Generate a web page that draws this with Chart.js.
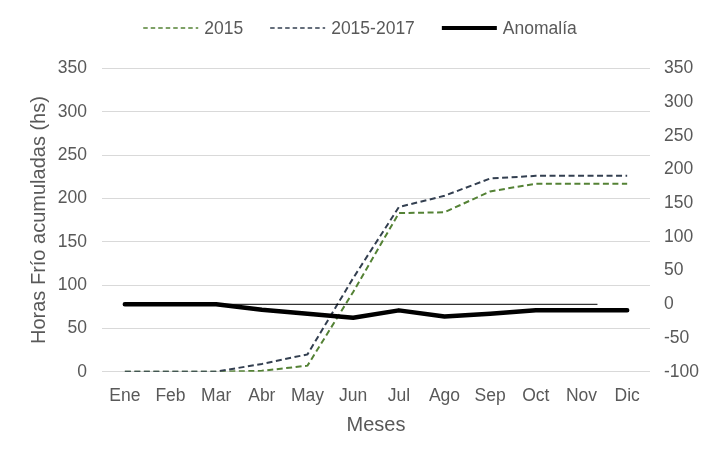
<!DOCTYPE html>
<html>
<head>
<meta charset="utf-8">
<script src="https://cdn.jsdelivr.net/npm/chart.js@4.4.1/dist/chart.umd.min.js"></script>
<style>
  html, body { margin: 0; padding: 0; background: #ffffff; }
  #wrap { width: 718px; height: 461px; }
</style>
</head>
<body>
<div id="wrap"><canvas id="c" width="718" height="461"></canvas></div>
<script>
const categories = ['Ene','Feb','Mar','Abr','May','Jun','Jul','Ago','Sep','Oct','Nov','Dic'];
const serie2015 = [0, 0, 0, 1, 7, 92, 183, 184, 208, 217, 217, 217];
const serie2015_2017 = [0, 0, 0, 9, 20, 108, 190, 203, 223, 226, 226, 226];
const anomalia = [0, 0, 0, -8, -14, -20, -9, -18, -14, -9, -9, -9];
const leftTicks = [0, 50, 100, 150, 200, 250, 300, 350];
const rightTicks = [-100, -50, 0, 50, 100, 150, 200, 250, 300, 350];
const refLine = [{x: 0, y: 0}, {x: 10.35, y: 0}];

const FONT = "'Liberation Sans', Arial, sans-serif";
const TXT = '#595959';

const legendPlugin = {
  id: 'customLegend',
  afterDraw(chart) {
    const ctx = chart.ctx;
    const items = chart.data.datasets.filter(d => d.inLegend);
    ctx.save();
    ctx.font = '17.5px ' + FONT;
    const lineLen = 55, gapText = 6, spacing = 27;
    let total = 0;
    items.forEach((d, i) => {
      total += lineLen + gapText + ctx.measureText(d.label).width;
      if (i < items.length - 1) total += spacing;
    });
    let x = chart.width / 2 + 1 - total / 2;
    const y = 28;
    items.forEach(d => {
      ctx.beginPath();
      ctx.setLineDash(d.legendDash || []);
      ctx.lineWidth = d.legendWidth;
      ctx.strokeStyle = d.borderColor;
      ctx.moveTo(x, y);
      ctx.lineTo(x + lineLen, y);
      ctx.stroke();
      ctx.setLineDash([]);
      x += lineLen + gapText;
      ctx.fillStyle = TXT;
      ctx.textBaseline = 'middle';
      ctx.textAlign = 'left';
      ctx.fillText(d.label, x, y + 1);
      x += ctx.measureText(d.label).width + spacing;
    });
    ctx.restore();
  }
};

new Chart(document.getElementById('c'), {
  type: 'line',
  data: {
    labels: categories,
    datasets: [
      {
        label: '2015', data: serie2015, yAxisID: 'y', xAxisID: 'x',
        borderColor: '#548235', borderWidth: 2, borderDash: [6, 3.5],
        pointRadius: 0, tension: 0, fill: false, order: 3,
        inLegend: true, legendDash: [4.5, 3], legendWidth: 1.6
      },
      {
        label: '2015-2017', data: serie2015_2017, yAxisID: 'y', xAxisID: 'x',
        borderColor: '#333f50', borderWidth: 2, borderDash: [6, 3.5],
        pointRadius: 0, tension: 0, fill: false, order: 2,
        inLegend: true, legendDash: [4.5, 3], legendWidth: 1.6
      },
      {
        label: 'Anomalía', data: anomalia, yAxisID: 'y1', xAxisID: 'x',
        borderColor: '#000000', borderWidth: 4.5,
        pointRadius: 0, tension: 0, fill: false, order: 1,
        borderCapStyle: 'round', borderJoinStyle: 'round',
        inLegend: true, legendWidth: 4
      },
      {
        label: 'ref', data: refLine, yAxisID: 'y1', xAxisID: 'xr',
        borderColor: '#000000', borderWidth: 1,
        pointRadius: 0, tension: 0, fill: false, order: 0,
        inLegend: false
      }
    ]
  },
  options: {
    responsive: false,
    animation: false,
    events: [],
    layout: { padding: { top: 68.4, left: 0, right: 0, bottom: 0 } },
    plugins: { legend: { display: false }, tooltip: { enabled: false } },
    scales: {
      x: {
        type: 'category', offset: true,
        grid: { display: false, drawTicks: false },
        border: { display: false },
        ticks: { color: TXT, font: { family: FONT, size: 17.5 }, padding: 14, maxRotation: 0, autoSkip: false },
        title: { display: true, text: 'Meses', color: TXT, font: { family: FONT, size: 20 }, padding: { top: 0, bottom: 24 } },
        afterFit(s) { s.height = 461 - 371.7; }
      },
      xr: {
        type: 'linear', display: false, min: -0.5, max: 11.5
      },
      y: {
        position: 'left', min: 0, max: 350,
        afterBuildTicks(s) { s.ticks = leftTicks.map(v => ({ value: v })); },
        grid: { color: '#d9d9d9', lineWidth: 1, drawTicks: false },
        border: { display: false },
        ticks: { color: TXT, font: { family: FONT, size: 17.5 }, padding: 15 },
        title: { display: true, text: 'Horas Frío acumuladas (hs)', color: TXT, font: { family: FONT, size: 20 }, padding: { top: 27, bottom: 0 } },
        afterFit(s) { s.width = 102; }
      },
      y1: {
        position: 'right', min: -100, max: 350,
        afterBuildTicks(s) { s.ticks = rightTicks.map(v => ({ value: v })); },
        grid: { display: false, drawTicks: false },
        border: { display: false },
        ticks: { color: TXT, font: { family: FONT, size: 17.5 }, padding: 14 },
        afterFit(s) { s.width = 718 - 650; }
      }
    }
  },
  plugins: [legendPlugin]
});
</script>
</body>
</html>
